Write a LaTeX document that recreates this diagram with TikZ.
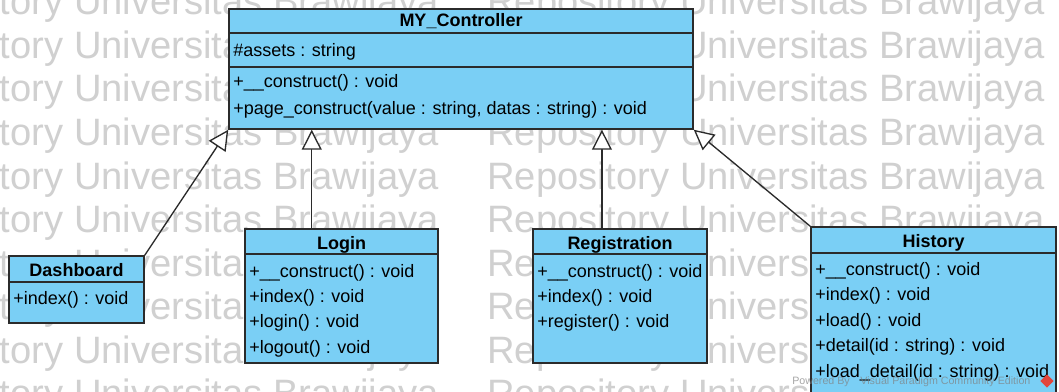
\documentclass[tikz,border=0pt]{standalone}
\usepackage{fontspec}
\setmainfont{Liberation Sans}
\usetikzlibrary{arrows.meta,positioning,calc,fit}
\definecolor{ClassFill}{HTML}{7ACFF5}
\definecolor{Edge}{HTML}{2B2B2B}
\definecolor{Stamp}{HTML}{D0D0D0}
\definecolor{VPRed}{HTML}{E2453C}
\newcommand{\memberfont}{\fontsize{13.5}{16}\selectfont}
\tikzset{
  >=Latex,
  compart/.style={rectangle,draw=Edge,fill=ClassFill,line width=1.1pt,inner sep=0pt},
  member/.style={anchor=base west,inner sep=0pt,font=\memberfont},
  clstitle/.style={anchor=base,inner sep=0pt,font=\memberfont\bfseries},
  gen/.style={-{Triangle[length=15pt,width=15pt,fill=white]},line width=1pt,draw=Edge},
  stamp/.style={anchor=base west,inner sep=0pt,text=Stamp,font=\fontsize{28.6}{30}\selectfont},
  credit/.style={anchor=base west,inner sep=0pt,text=gray,text opacity=.7,font=\fontsize{8}{9}\selectfont}
}

\begin{document}
\begin{tikzpicture}[x=0.75pt,y=-0.75pt]
  \clip (0,0) rectangle (1059,392);
  \fill[white] (0,0) rectangle (1059,392);
  % watermark rows
  \foreach \k in {0,...,9}{
    \node[stamp] (stamp-l\k) at (-119,15+43.5*\k) {Repository Universitas Brawijaya};
    \node[stamp] (stamp-r\k) at (487,15+43.5*\k) {Repository Universitas Brawijaya};
  }

  % MY_Controller
  \node[compart,fit={(229,9) (693,33)}] (ctrl-name) {};
  \node[compart,fit={(229,33) (693,67)}] (ctrl-attr) {};
  \node[compart,fit={(229,67) (693,129)}] (ctrl-ops) {};
  \node[clstitle] (ctrl-title) at (461,27) {MY\_Controller};
  \node[member] (ctrl-a0) at (233,57) {\#assets : string};
  \foreach \t [count=\i from 0] in {+\_\_construct() : void,{+page\_construct(value : string, datas : string) : void}}
    \node[member] (ctrl-m\i) at (233,88+26.5*\i) {\t};

  % Dashboard
  \node[compart,fit={(9,256) (144,282)}] (dash-name) {};
  \node[compart,fit={(9,282) (144,323)}] (dash-ops) {};
  \node[clstitle] (dash-title) at (76.5,276) {Dashboard};
  \node[member] (dash-m0) at (13,304) {+index() : void};

  % Login
  \node[compart,fit={(245,229) (438,254)}] (login-name) {};
  \node[compart,fit={(245,254) (438,363)}] (login-ops) {};
  \node[clstitle] (login-title) at (341.5,249) {Login};
  \foreach \t [count=\i from 0] in {+\_\_construct() : void,+index() : void,+login() : void,+logout() : void}
    \node[member] (login-m\i) at (249,277+25.4*\i) {\t};

  % Registration
  \node[compart,fit={(533,229) (707,254)}] (reg-name) {};
  \node[compart,fit={(533,254) (707,363)}] (reg-ops) {};
  \node[clstitle] (reg-title) at (620,249) {Registration};
  \foreach \t [count=\i from 0] in {+\_\_construct() : void,+index() : void,+register() : void}
    \node[member] (reg-m\i) at (537,277+25.4*\i) {\t};

  % History
  \node[compart,fit={(811,227) (1056,253)}] (hist-name) {};
  \node[compart,fit={(811,253) (1056,404)}] (hist-ops) {};
  \node[clstitle] (hist-title) at (933.5,247) {History};
  \foreach \t [count=\i from 0] in {+\_\_construct() : void,+index() : void,+load() : void,{+detail(id : string) : void},{+load\_detail(id : string) : void}}
    \node[member] (hist-m\i) at (815,275+25.5*\i) {\t};

  % generalisations
  \draw[gen] (dash-name.north east) -- (ctrl-ops.south west);
  \coordinate (login-up) at ($(login-name.north west)!0.347!(login-name.north east)$);
  \draw[gen] (login-up) -- (login-up |- ctrl-ops.south);
  \coordinate (reg-up) at ($(reg-name.north west)!0.397!(reg-name.north east)$);
  \draw[gen] (reg-up) -- (reg-up |- ctrl-ops.south);
  \draw[gen] (hist-name.north west) -- (ctrl-ops.south east);

  % tool credit
  \node[credit] (vp-credit) at (792,384) {Powered By\quad Visual Paradigm Community Edition};
  \node[fill=VPRed,rotate=45,minimum size=7pt,inner sep=0pt] (vp-logo) at (1047,381) {};
\end{tikzpicture}
\end{document}
